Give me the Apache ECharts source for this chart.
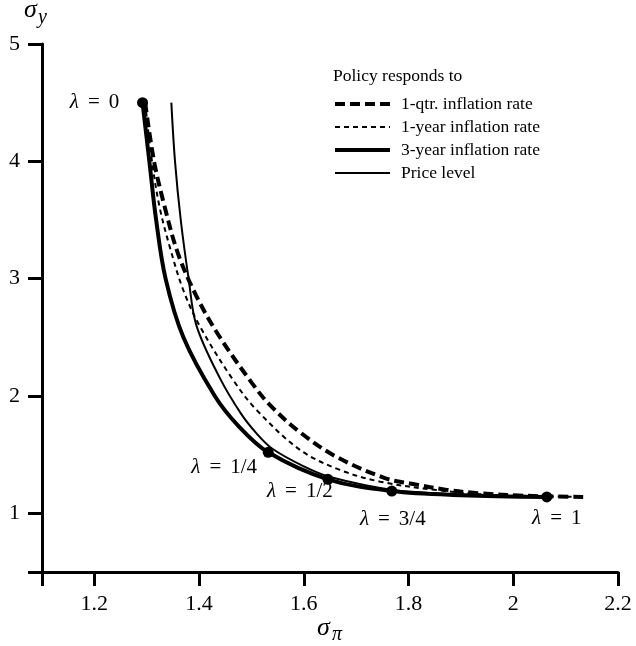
<!DOCTYPE html>
<html>
<head>
<meta charset="utf-8">
<script src="https://cdn.jsdelivr.net/npm/echarts@6/dist/echarts.min.js"></script>
<style>
html,body{margin:0;padding:0;background:#fff;}
#chart{width:636px;height:646px;}
</style>
</head>
<body>
<div id="chart"></div>
<script>
// ---- Data ----
// 1-qtr. inflation rate
const qtrX = [1.297, 1.314, 1.335, 1.360, 1.395, 1.437, 1.501, 1.536, 1.593, 1.663, 1.755, 1.809, 1.873, 1.937, 2.020, 2.137];
const qtrY = [4.50, 4.00, 3.60, 3.21, 2.85, 2.52, 2.11, 1.92, 1.69, 1.48, 1.30, 1.25, 1.20, 1.17, 1.15, 1.14];
// 1-year inflation rate
const yearX = [1.297, 1.310, 1.325, 1.346, 1.370, 1.402, 1.466, 1.510, 1.593, 1.669, 1.746, 1.850, 1.950, 2.130];
const yearY = [4.50, 4.00, 3.60, 3.24, 2.90, 2.59, 2.13, 1.88, 1.54, 1.37, 1.27, 1.20, 1.16, 1.14];
// 3-year inflation rate
const y3X = [1.292, 1.305, 1.318, 1.336, 1.370, 1.430, 1.474, 1.532, 1.646, 1.768, 1.900, 2.064];
const y3Y = [4.50, 4.00, 3.50, 3.00, 2.50, 2.00, 1.75, 1.52, 1.29, 1.19, 1.155, 1.14];
// Price level
const priceX = [1.347, 1.354, 1.365, 1.380, 1.395, 1.440, 1.480, 1.510, 1.540, 1.600, 1.650, 1.770, 1.900, 2.060];
const priceY = [4.50, 4.00, 3.50, 3.00, 2.60, 2.15, 1.85, 1.68, 1.55, 1.40, 1.31, 1.20, 1.16, 1.14];
// lambda markers on the 3-year curve
const lambdaX = [1.292, 1.532, 1.646, 1.768, 2.064];
const lambdaY = [4.50, 1.52, 1.29, 1.19, 1.14];
const lambdaText = ['0', '1/4', '1/2', '3/4', '1'];

const seriesNames = ['1-qtr. inflation rate', '1-year inflation rate', '3-year inflation rate', 'Price level'];
const xTickValues = [1.1, 1.2, 1.4, 1.6, 1.8, 2.0, 2.2];
const xLabelValues = [1.2, 1.4, 1.6, 1.8, 2.0, 2.2];
const yTickValues = [0.5, 1, 2, 3, 4, 5];
const yLabelValues = [1, 2, 3, 4, 5];

// ---- helpers ----
const pairs = (xs, ys) => xs.map((x, i) => [x, ys[i]]);
const FONT = '"Liberation Serif", "DejaVu Serif", serif';
const labelOffsets = [[-48, 0], [-44, 15], [-28, 12], [1, 28], [10, 22]];

const chart = echarts.init(document.getElementById('chart'), null, {renderer: 'canvas'});

const lineSeries = (name, data, width, type) => ({
  name, type: 'line', data: data, symbol: 'none', smooth: 0.35,
  lineStyle: {color: '#000', width: width, type: type, cap: 'butt'},
  itemStyle: {color: '#000'},
  emphasis: {disabled: true}, z: 2
});

const italic = (size) => 'italic ' + size + 'px ' + FONT;

const option = {
  animation: false,
  backgroundColor: '#fff',
  textStyle: {fontFamily: FONT, color: '#000'},
  grid: {left: 42, right: 18, top: 44, bottom: 74, containLabel: false},
  legend: {
    data: seriesNames,
    orient: 'vertical',
    left: 333, top: 95, padding: 0,
    itemWidth: 55, itemHeight: 14, itemGap: 5,
    itemStyle: {opacity: 0},
    lineStyle: {width: 'inherit', type: 'inherit'},
    textStyle: {fontFamily: FONT, fontSize: 17.5, color: '#000', padding: [0, 0, 0, 6]},
    selectedMode: false
  },
  xAxis: {
    type: 'value', min: 1.1, max: 2.2,
    axisLine: {show: true, onZero: false, lineStyle: {color: '#000', width: 3}},
    axisTick: {show: true, length: 14, customValues: xTickValues, lineStyle: {color: '#000', width: 3}},
    axisLabel: {show: true, customValues: xLabelValues, margin: 21, fontFamily: FONT, fontSize: 22, color: '#000',
      formatter: v => String(+(+v).toFixed(1))},
    splitLine: {show: false}
  },
  yAxis: {
    type: 'value', min: 0.5, max: 5,
    axisLine: {show: true, onZero: false, lineStyle: {color: '#000', width: 3}},
    axisTick: {show: true, length: 14, customValues: yTickValues, lineStyle: {color: '#000', width: 3}},
    axisLabel: {show: true, customValues: yLabelValues, margin: 22, fontFamily: FONT, fontSize: 22, color: '#000',
      formatter: v => String(+(+v).toFixed(1))},
    splitLine: {show: false}
  },
  graphic: [
    {type: 'text', left: 333, top: 67, style: {text: 'Policy responds to', font: '17.5px ' + FONT, fill: '#000'}},
    {type: 'text', left: 24, top: -3, style: {text: 'σ', font: italic(26), fill: '#000'}},
    {type: 'text', left: 38, top: 8, style: {text: 'y', font: italic(20), fill: '#000'}},
    {type: 'text', left: 317, top: 615, style: {text: 'σ', font: italic(26), fill: '#000'}},
    {type: 'text', left: 332, top: 625, style: {text: 'π', font: italic(20), fill: '#000'}}
  ],
  series: [
    lineSeries(seriesNames[0], pairs(qtrX, qtrY), 4, [10, 5]),
    lineSeries(seriesNames[1], pairs(yearX, yearY), 2, [5, 4]),
    lineSeries(seriesNames[2], pairs(y3X, y3Y), 4, 'solid'),
    lineSeries(seriesNames[3], pairs(priceX, priceY), 2, 'solid'),
    {
      name: 'lambda', type: 'scatter', symbol: 'circle', symbolSize: 11,
      itemStyle: {color: '#000', opacity: 1}, z: 5,
      emphasis: {disabled: true},
      data: lambdaX.map((x, i) => ({
        value: [x, lambdaY[i]],
        label: {
          show: true, position: 'inside', offset: labelOffsets[i],
          formatter: '{l|λ}{e|=}' + lambdaText[i],
          fontFamily: FONT, fontSize: 21, color: '#000',
          rich: {
            l: {fontFamily: FONT, fontStyle: 'italic', fontSize: 21, color: '#000'},
            e: {fontFamily: FONT, fontSize: 21, color: '#000', padding: [0, 9, 0, 9]}
          }
        }
      }))
    }
  ]
};
chart.setOption(option);
</script>
</body>
</html>
